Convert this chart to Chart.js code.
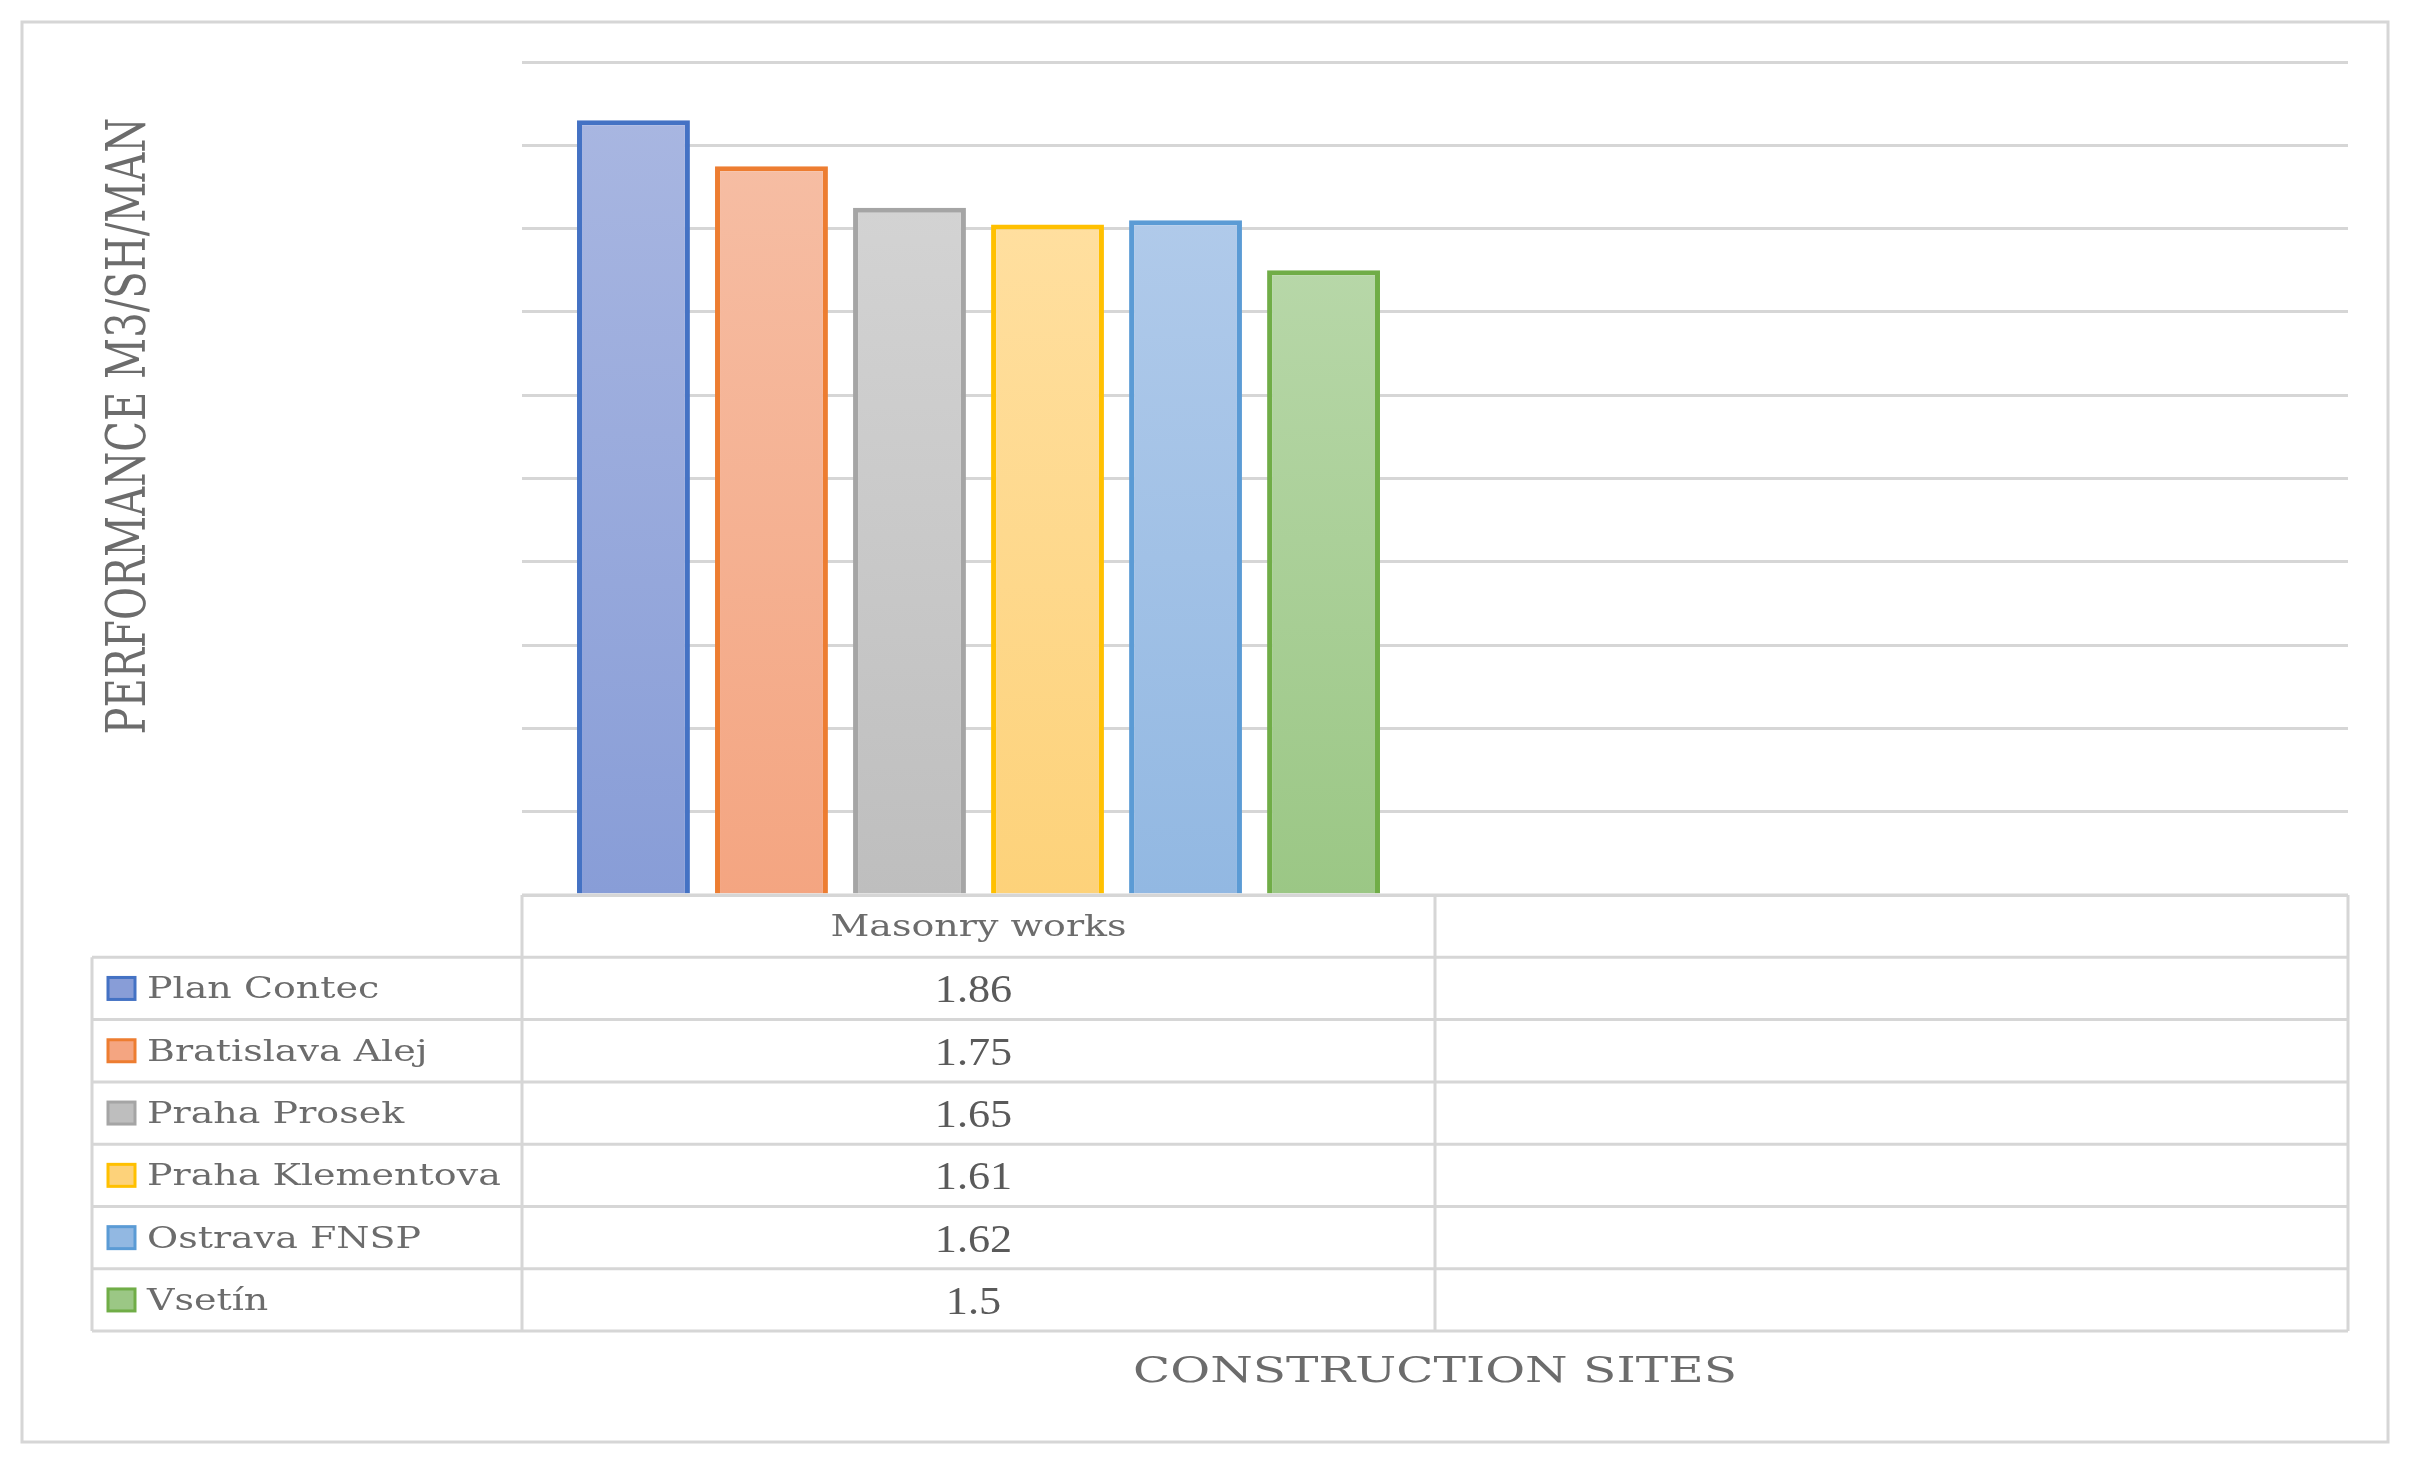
<!DOCTYPE html>
<html>
<head>
<meta charset="utf-8">
<title>Performance by construction site</title>
<script src="https://cdn.jsdelivr.net/npm/chart.js@4.4.1/dist/chart.umd.min.js"></script>
<style>
  html, body { margin: 0; padding: 0; background: #fff; }
  canvas { display: block; }
</style>
</head>
<body>
<canvas id="chart" width="2409" height="1467"></canvas>
<script>
// data
const categories = ["Masonry works", ""];
const seriesNames = ["Plan Contec", "Bratislava Alej", "Praha Prosek", "Praha Klementova", "Ostrava FNSP", "Vsetín"];
const seriesValues = [1.86, 1.75, 1.65, 1.61, 1.62, 1.5];
const valueLabels = ["1.86", "1.75", "1.65", "1.61", "1.62", "1.5"];
const yTitle = "PERFORMANCE M3/SH/MAN";
const xTitle = "CONSTRUCTION SITES";

// office-like palette, gradient from light (top) to darker (bottom)
const borderColors = ["#4472C4", "#ED7D31", "#A5A5A5", "#FFC000", "#5B9BD5", "#70AD47"];
const fillTop = ["#A8B6E1", "#F6BDA3", "#D3D3D3", "#FFDF9F", "#B0CAEA", "#B7D7A8"];
const fillBottom = ["#889DD7", "#F4A581", "#BEBEBE", "#FDD27A", "#92B8E2", "#9BC785"];

const GRID = "#d6d6d6";
const TEXT = "#6c6c6c";
const VALUE_TEXT = "#5a5a5a";
const SERIF = '"DejaVu Serif", serif';
const VALUE_FONT = '"Liberation Serif", serif';

const TABLE_LEFT = 92;
const ROW_H = 62.3;

function stretchText(ctx, text, x, y, font, sx, align, rot) {
  ctx.save();
  ctx.translate(x, y);
  if (rot) ctx.rotate(rot);
  ctx.font = font;
  ctx.textAlign = align;
  ctx.textBaseline = "alphabetic";
  ctx.scale(sx, 1);
  ctx.fillText(text, 0, 0);
  ctx.restore();
}

function fitText(ctx, text, x, y, font, targetW, align, rot) {
  ctx.save();
  ctx.font = font;
  const w = ctx.measureText(text).width;
  ctx.restore();
  stretchText(ctx, text, x, y, font, targetW / w, align, rot);
}

const frameAndTable = {
  id: "frameAndTable",
  beforeDraw(chart) {
    const ctx = chart.ctx;
    ctx.save();
    ctx.fillStyle = "#fff";
    ctx.fillRect(0, 0, chart.width, chart.height);
    ctx.strokeStyle = GRID;
    ctx.lineWidth = 3;
    ctx.strokeRect(22, 22, 2366, 1420);
    ctx.restore();
  },
  afterDraw(chart) {
    const ctx = chart.ctx;
    const area = chart.chartArea;
    const x = chart.scales.x;
    const top = area.bottom;
    const nRows = seriesNames.length;
    const bottom = top + ROW_H * (nRows + 1);
    const catW = (x.right - x.left) / categories.length;

    ctx.save();
    ctx.strokeStyle = GRID;
    ctx.lineWidth = 3;
    ctx.beginPath();
    ctx.moveTo(area.left, top);
    ctx.lineTo(area.right, top);
    for (let r = 1; r <= nRows + 1; r++) {
      const yy = top + r * ROW_H;
      ctx.moveTo(TABLE_LEFT, yy);
      ctx.lineTo(area.right, yy);
    }
    ctx.moveTo(TABLE_LEFT, top + ROW_H);
    ctx.lineTo(TABLE_LEFT, bottom);
    for (let c = 0; c <= categories.length; c++) {
      const xx = x.left + c * catW;
      ctx.moveTo(xx, top);
      ctx.lineTo(xx, bottom);
    }
    ctx.stroke();

    // header
    ctx.fillStyle = TEXT;
    categories.forEach((cat, c) => {
      if (!cat) return;
      stretchText(ctx, cat, x.left + (c + 0.5) * catW, top + ROW_H / 2 + 10,
        "29px " + SERIF, 1.31, "center");
    });

    // rows: legend key, series name, value
    for (let i = 0; i < nRows; i++) {
      const cy = top + (i + 1.5) * ROW_H;
      ctx.fillStyle = fillBottom[i];
      ctx.fillRect(108, cy - 11, 27, 22);
      ctx.strokeStyle = borderColors[i];
      ctx.lineWidth = 3;
      ctx.strokeRect(108, cy - 11, 27, 22);

      ctx.fillStyle = TEXT;
      stretchText(ctx, seriesNames[i], 147, cy + 10, "29px " + SERIF, 1.31, "left");

      ctx.fillStyle = VALUE_TEXT;
      stretchText(ctx, valueLabels[i], x.left + 0.5 * catW - 5, cy + 14,
        "41px " + VALUE_FONT, 1.08, "center");
    }

    // axis titles
    ctx.fillStyle = TEXT;
    fitText(ctx, xTitle, (area.left + area.right) / 2, 1382, "36px " + SERIF, 604, "center");
    // rotated: baseline sits half a cap height right of the centre line
    fitText(ctx, yTitle, 145, 426, "55px " + SERIF, 617, "center", -Math.PI / 2);
    ctx.restore();
  }
};

const datasets = seriesNames.map((name, i) => ({
  label: name,
  data: categories.map((c, k) => (k === 0 ? seriesValues[i] : null)),
  borderColor: borderColors[i],
  borderWidth: 5,
  borderSkipped: "bottom",
  backgroundColor: (ctx) => {
    const chart = ctx.chart;
    const area = chart.chartArea;
    if (!area || ctx.raw == null) return fillBottom[i];
    const yTop = chart.scales.y.getPixelForValue(ctx.raw);
    const g = chart.ctx.createLinearGradient(0, yTop, 0, area.bottom);
    g.addColorStop(0, fillTop[i]);
    g.addColorStop(1, fillBottom[i]);
    return g;
  },
  categoryPercentage: 0.907,
  barPercentage: 0.818
}));

new Chart(document.getElementById("chart"), {
  type: "bar",
  data: { labels: categories, datasets },
  options: {
    responsive: false,
    animation: false,
    devicePixelRatio: 1,
    layout: { padding: { left: 522, right: 61, top: 62, bottom: 572 } },
    plugins: {
      legend: { display: false },
      tooltip: { enabled: false },
      title: { display: false }
    },
    scales: {
      x: { display: false },
      y: {
        min: 0,
        max: 2,
        ticks: { display: false, stepSize: 0.2 },
        grid: { color: GRID, lineWidth: 3, drawTicks: false },
        border: { display: false }
      }
    }
  },
  plugins: [frameAndTable]
});
</script>
</body>
</html>
